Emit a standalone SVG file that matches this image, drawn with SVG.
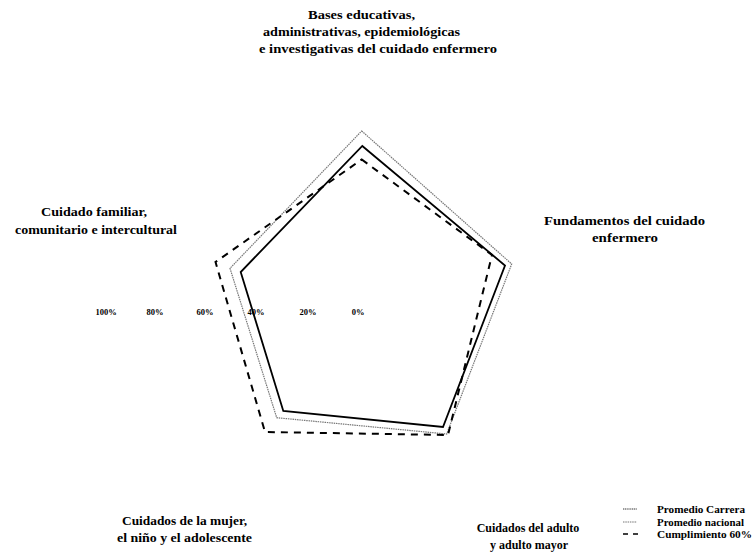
<svg xmlns="http://www.w3.org/2000/svg" width="756" height="556" viewBox="0 0 756 556">
<style>
  .lbl { font-family: "Liberation Serif", "Times New Roman", serif; font-weight: bold; font-size: 13px; fill: #000; }
  .sm { font-size: 12px; }
  .pct { font-family: "Liberation Serif", "Times New Roman", serif; font-weight: bold; font-size: 8.5px; fill: #000; text-anchor: middle; }
  .leg { font-family: "Liberation Serif", "Times New Roman", serif; font-weight: bold; font-size: 10px; fill: #000; }
  .nac { fill: none; stroke: #777; stroke-width: 1.2; stroke-dasharray: 1.5 0.8; }
  .car { fill: none; stroke: #000; stroke-width: 1.8; }
  .cum { fill: none; stroke: #000; stroke-width: 2; stroke-dasharray: 7 6; }
</style>
<rect width="756" height="556" fill="#fff"/>

<g id="axis-labels">
  <text class="pct" x="106" y="315">100%</text>
  <text class="pct" x="155" y="315">80%</text>
  <text class="pct" x="205" y="315">60%</text>
  <text class="pct" x="256" y="315">40%</text>
  <text class="pct" x="308" y="315">20%</text>
  <text class="pct" x="358" y="315">0%</text>
</g>

<g id="series">
  <polygon id="promedio-nacional" class="nac" points="361.7,131 511.7,264 446.7,434 276.7,417.7 230,268.3"/>
  <polygon id="promedio-carrera" class="car" points="362.3,146 505,265.5 443,427 283.3,411 240.7,272"/>
  <polygon id="cumplimiento" class="cum" points="361.7,159.5 492,255 448,435 265,432 215.5,262"/>
</g>

<g id="node-bases">
  <text class="lbl" x="308" y="19" textLength="107" lengthAdjust="spacingAndGlyphs">Bases educativas,</text>
  <text class="lbl" x="263" y="36" textLength="197" lengthAdjust="spacingAndGlyphs">administrativas, epidemiológicas</text>
  <text class="lbl" x="259" y="53" textLength="238" lengthAdjust="spacingAndGlyphs">e investigativas del cuidado enfermero</text>
</g>
<g id="node-fundamentos">
  <text class="lbl" x="544" y="225" textLength="161" lengthAdjust="spacingAndGlyphs">Fundamentos del cuidado</text>
  <text class="lbl" x="592" y="242" textLength="66" lengthAdjust="spacingAndGlyphs">enfermero</text>
</g>
<g id="node-adulto">
  <text class="lbl sm" x="528" y="532" text-anchor="middle">Cuidados del adulto</text>
  <text class="lbl sm" x="529" y="549" text-anchor="middle">y adulto mayor</text>
</g>
<g id="node-mujer">
  <text class="lbl" x="122" y="525" textLength="125" lengthAdjust="spacingAndGlyphs">Cuidados de la mujer,</text>
  <text class="lbl" x="117" y="542" textLength="135" lengthAdjust="spacingAndGlyphs">el niño y el adolescente</text>
</g>
<g id="node-familiar">
  <text class="lbl" x="41" y="216" textLength="106" lengthAdjust="spacingAndGlyphs">Cuidado familiar,</text>
  <text class="lbl" x="15" y="234" textLength="162" lengthAdjust="spacingAndGlyphs">comunitario e intercultural</text>
</g>

<g id="legend">
  <line x1="623" y1="509" x2="637" y2="509" stroke="#000" stroke-width="0.8" stroke-dasharray="1.2 0.6"/>
  <text class="leg" x="657" y="513" textLength="88" lengthAdjust="spacingAndGlyphs">Promedio Carrera</text>
  <line x1="623" y1="522" x2="637" y2="522" stroke="#777" stroke-width="1.2" stroke-dasharray="1.5 0.8"/>
  <text class="leg" x="657" y="526" textLength="87" lengthAdjust="spacingAndGlyphs">Promedio nacional</text>
  <line x1="623" y1="534" x2="638" y2="534" stroke="#000" stroke-width="1.5" stroke-dasharray="5 5"/>
  <text class="leg" x="657" y="538" textLength="95" lengthAdjust="spacingAndGlyphs">Cumplimiento 60%</text>
</g>
</svg>
